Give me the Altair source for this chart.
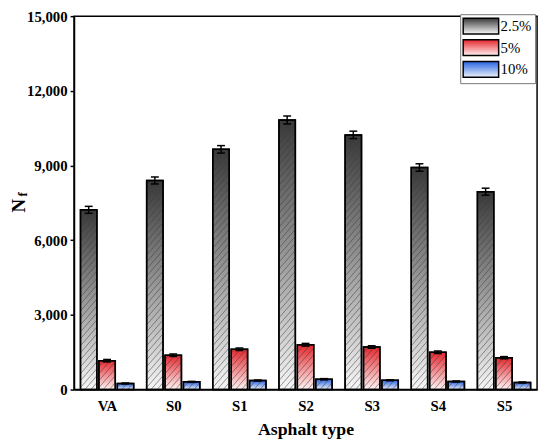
import json
import altair as alt
import pandas as pd

# ---- data ----
categories = ["VA", "S0", "S1", "S2", "S3", "S4", "S5"]
series = ["2.5%", "5%", "10%"]
nf_2_5 = [7220, 8400, 9650, 10830, 10230, 8920, 7950]
nf_5 = [1160, 1380, 1620, 1800, 1710, 1500, 1280]
nf_10 = [245, 310, 365, 415, 375, 325, 285]
err_2_5 = [140, 140, 150, 160, 150, 150, 140]
err_5 = [50, 50, 50, 55, 50, 50, 45]
err_10 = [20, 20, 20, 25, 20, 20, 20]
y_ticks = [0, 3000, 6000, 9000, 12000, 15000]

# ---- styles ----
FONT = "Liberation Serif"
BAR_OFFSET = 0.278     # group offset (in category units)
HALF_W = 0.124         # half bar width (in category units)
HATCH_STEP = 280       # vertical spacing of hatch lines (data units)
HATCH_RISE = 760       # rise of a hatch line across one bar (data units)
grad_colors = {
    "2.5%": ("#383838", "#f6f6f6"),
    "5%": ("#e5262c", "#fff4f4"),
    "10%": ("#2763e0", "#eef2fb"),
}

rows = []
for s_i, (s, vals, errs) in enumerate(zip(series, [nf_2_5, nf_5, nf_10], [err_2_5, err_5, err_10])):
    for c_i, (c, v, e) in enumerate(zip(categories, vals, errs)):
        rows.append({"cat": c, "idx": c_i, "series": s, "sidx": s_i, "value": v, "err": e})
df = pd.DataFrame(rows)

base = alt.Chart(df).transform_calculate(
    xc=f"datum.idx + (datum.sidx - 1) * {BAR_OFFSET}",
).transform_calculate(
    xl=f"datum.xc - {HALF_W}",
    xr=f"datum.xc + {HALF_W}",
    lo="datum.value - datum.err",
    hi="datum.value + datum.err",
)

xscale = alt.Scale(domain=[-0.5, 6.5], nice=False, zero=False)
yscale = alt.Scale(domain=[0, 15000], nice=False)

label_expr = json.dumps(categories) + "[datum.value]"

x_axis = alt.Axis(values=list(range(len(categories))), labelExpr=label_expr,
                  title="Asphalt type", ticks=False, grid=False,
                  labelFont=FONT, labelFontSize=15, labelFontWeight="bold", labelPadding=9,
                  labelColor="black",
                  titleFont=FONT, titleFontSize=18, titleFontWeight="bold", titlePadding=8,
                  titleColor="black", domainColor="black", domainWidth=1.5)
y_axis = alt.Axis(values=y_ticks, labelExpr="format(datum.value, ',')",
                  title="N", grid=False, tickSize=4, tickWidth=1.5, tickColor="black",
                  labelFont=FONT, labelFontSize=15, labelFontWeight="bold", labelPadding=3,
                  labelColor="black",
                  titleFont=FONT, titleFontSize=19, titleFontWeight="bold", titleAngle=270,
                  titleX=-50, titleY=192, titleBaseline="alphabetic", titleAlign="center",
                  titleColor="black", domainColor="black", domainWidth=1.5)


def X(field):
    return alt.X(field, scale=xscale, axis=x_axis)


def Y(field):
    return alt.Y(field, scale=yscale, axis=y_axis)


def grad_js(top, bottom):
    return ("{gradient:'linear',x1:0,y1:0,x2:0,y2:1,stops:[{offset:0,color:'%s'},{offset:1,color:'%s'}]}"
            % (top, bottom))


# one expression serves both the bars (datum.series) and the legend entries (datum.value)
fill_expr = (
    "(datum.series || datum.value) === '2.5%' ? " + grad_js(*grad_colors["2.5%"])
    + " : (datum.series || datum.value) === '5%' ? " + grad_js(*grad_colors["5%"])
    + " : " + grad_js(*grad_colors["10%"])
)

bars = base.mark_rect(fill=alt.ExprRef(fill_expr), strokeWidth=1.5).encode(
    x=X("xl:Q"), x2="xr:Q", y=Y("value:Q"), y2=alt.Y2(datum=0),
    stroke=alt.Stroke(
        "series:N",
        scale=alt.Scale(domain=series, range=["#000000", "#000000", "#000000"]),
        legend=alt.Legend(
            title=None, orient="none", legendX=392, legendY=-2,
            strokeColor="#777777", fillColor="white", padding=3,
            symbolType="M-1.125,-1.0H3.375V1.0H-1.125Z", symbolSize=256, symbolStrokeWidth=1.5,
            symbolOpacity=1,
            labelFont=FONT, labelFontSize=15, labelFontWeight="normal", labelColor="black",
            labelOffset=20, rowPadding=0,
        ),
    ),
)

# hatch lines derived from each bar
hatch = base.transform_calculate(
    k=f"sequence(-{HATCH_RISE}, datum.value, {HATCH_STEP})"
).transform_flatten(["k"]).transform_calculate(
    ys="max(datum.k, 0)",
    ye=f"min(datum.k + {HATCH_RISE}, datum.value)",
).transform_filter("datum.ye > datum.ys").transform_calculate(
    hx1=f"datum.xl + (datum.ys - datum.k) / {HATCH_RISE} * {2 * HALF_W}",
    hx2=f"datum.xl + (datum.ye - datum.k) / {HATCH_RISE} * {2 * HALF_W}",
).mark_rule(stroke="#3a3a3a", strokeWidth=0.7, opacity=0.75).encode(
    x=X("hx1:Q"), x2="hx2:Q", y=Y("ys:Q"), y2="ye:Q",
)

outline = base.mark_rect(fill="transparent", stroke="black", strokeWidth=1.5).encode(
    x=X("xl:Q"), x2="xr:Q", y=Y("value:Q"), y2=alt.Y2(datum=0),
)

err_rule = base.mark_rule(stroke="black", strokeWidth=1.5).encode(
    x=X("xc:Q"), y=Y("lo:Q"), y2="hi:Q"
)
cap_hi = base.mark_tick(orient="horizontal", size=8, thickness=1.5, color="black", opacity=1).encode(
    x=X("xc:Q"), y=Y("hi:Q")
)
cap_lo = base.mark_tick(orient="horizontal", size=8, thickness=1.5, color="black", opacity=1).encode(
    x=X("xc:Q"), y=Y("lo:Q")
)

sub_f = alt.Chart(pd.DataFrame({"t": ["f"]})).mark_text(
    text="f", angle=270, font=FONT, fontSize=13, fontWeight="bold", color="black",
    align="center", baseline="middle",
).encode(x=alt.value(-52), y=alt.value(181))

chart = alt.layer(bars, hatch, outline, err_rule, cap_hi, cap_lo, sub_f).properties(
    width=470, height=379,
    autosize=alt.AutoSizeParams(type="none"),
    padding={"left": 67, "top": 5, "right": 5, "bottom": 55},
).configure(
    font=FONT
).configure_view(
    stroke="black", strokeWidth=1.5
).configure_axis(
    labelFont=FONT, titleFont=FONT, labelColor="black", titleColor="black",
    domainColor="black", domainWidth=1.5, tickColor="black",
).configure_legend(
    labelFont=FONT
)

chart.save("out.html", embed_options={"renderer": "svg", "actions": False})
